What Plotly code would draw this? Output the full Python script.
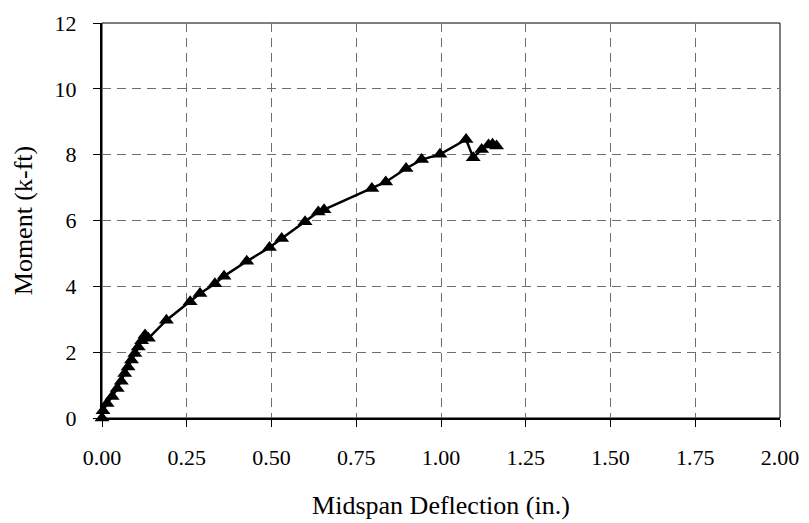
import plotly.graph_objects as go

# midspan deflection (in.) and moment (k-ft)
deflection = [0.000, 0.003, 0.015, 0.030, 0.045, 0.057, 0.067, 0.077, 0.087, 0.097,
              0.107, 0.117, 0.127, 0.137, 0.190, 0.260, 0.289, 0.333, 0.360, 0.427,
              0.494, 0.530, 0.599, 0.638, 0.655, 0.796, 0.837, 0.897, 0.943, 0.997,
              1.074, 1.095, 1.120, 1.140, 1.152, 1.164]
moment = [0.00, 0.22, 0.44, 0.65, 0.90, 1.12, 1.35, 1.55, 1.76, 1.96,
          2.16, 2.35, 2.52, 2.42, 2.97, 3.53, 3.78, 4.08, 4.31, 4.76,
          5.18, 5.45, 5.96, 6.26, 6.33, 6.97, 7.17, 7.58, 7.85, 8.01,
          8.46, 7.91, 8.16, 8.29, 8.32, 8.26]

x_ticks = [0, 0.25, 0.5, 0.75, 1.0, 1.25, 1.5, 1.75, 2.0]
x_ticklabels = ["0.00", "0.25", "0.50", "0.75", "1.00", "1.25", "1.50", "1.75", "2.00"]
y_ticks = [0, 2, 4, 6, 8, 10, 12]

FONT = "Liberation Serif, Times New Roman, serif"

fig = go.Figure()
fig.add_trace(go.Scatter(
    x=deflection, y=moment,
    mode="lines+markers",
    line=dict(color="black", width=2.5),
    marker=dict(symbol="triangle-up", size=13, color="black"),
    showlegend=False,
    cliponaxis=False,
))

# thin frame on top / right
fig.add_shape(type="rect", xref="x domain", yref="y domain",
              x0=0, x1=1, y0=0, y1=1, line=dict(color="black", width=1), layer="below")

fig.update_xaxes(
    range=[0, 2.0], tickvals=x_ticks, ticktext=x_ticklabels,
    showline=True, linecolor="black", linewidth=2,
    ticks="outside", ticklen=7, tickcolor="black", tickwidth=1,
    showgrid=True, gridcolor="#6e6e6e", gridwidth=1, griddash="9px,6px",
    zeroline=False, ticklabelstandoff=12, automargin=False,
    title=dict(text="Midspan Deflection (in.)", standoff=26),
)
fig.update_yaxes(
    range=[0, 12], tickvals=y_ticks,
    showline=True, linecolor="black", linewidth=2,
    ticks="outside", ticklen=7, tickcolor="black", tickwidth=1,
    showgrid=True, gridcolor="#6e6e6e", gridwidth=1, griddash="9px,6px",
    zeroline=False, ticklabelstandoff=12, automargin=False,
    title=dict(text="Moment (k-ft)", standoff=14),
)

# the page body adds an 8px offset, so the figure is sized to fit inside it
fig.update_layout(
    width=801, height=515,
    margin=dict(l=94, r=29, t=15, b=105),
    paper_bgcolor="white", plot_bgcolor="white",
    font=dict(family=FONT, size=22, color="black"),
)

fig.write_html("out.html")
